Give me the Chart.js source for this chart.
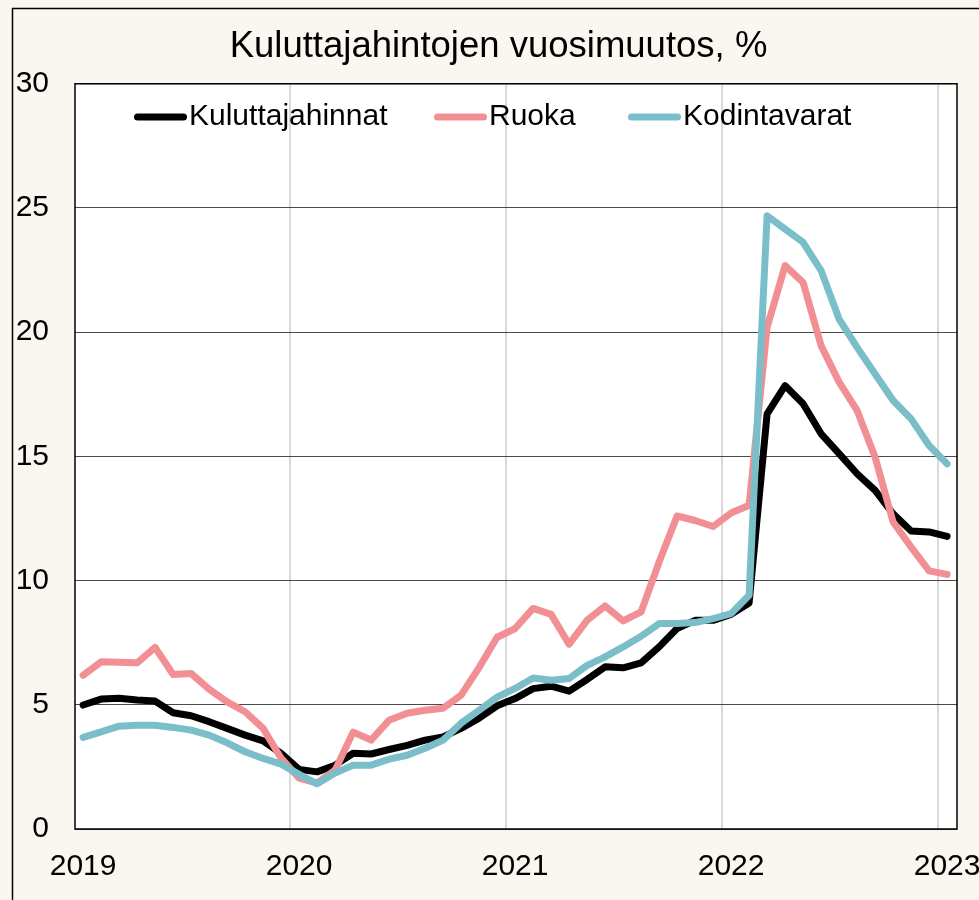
<!DOCTYPE html>
<html>
<head>
<meta charset="utf-8">
<script src="https://cdn.jsdelivr.net/npm/chart.js@4.4.0/dist/chart.umd.min.js"></script>
<style>
html, body { margin: 0; padding: 0; background: #faf6f0; overflow: hidden; }
</style>
</head>
<body>
<canvas id="chart" width="979" height="900"></canvas>
<script>
// Kuukausittaiset vuosimuutokset, tammikuu 2019 - tammikuu 2023
const years = ["2019", "2020", "2021", "2022", "2023"];
const yearTicks = [0, 12, 24, 36, 48];      // kuukausi-indeksi, jossa vuosi alkaa
const yearGrid = [11.5, 23.5, 35.5, 47.5];  // pystyviivat vuosien välissä

const kuluttajahinnat = [
  4.99, 5.23, 5.26, 5.19, 5.15, 4.68, 4.56, 4.32, 4.05, 3.78, 3.55, 3.04,
  2.40, 2.30, 2.57, 3.05, 3.02, 3.20, 3.37, 3.58, 3.71, 4.05, 4.46, 4.96,
  5.25, 5.65, 5.75, 5.55, 6.02, 6.53, 6.49, 6.69, 7.33, 8.07, 8.40, 8.40,
  8.64, 9.10, 16.71, 17.85, 17.12, 15.91, 15.11, 14.30, 13.63, 12.69, 12.00, 11.96,
  11.78
];
const ruoka = [
  6.19, 6.73, 6.71, 6.69, 7.31, 6.22, 6.26, 5.63, 5.12, 4.72, 4.05, 2.85,
  2.05, 1.85, 2.37, 3.90, 3.58, 4.38, 4.66, 4.78, 4.86, 5.39, 6.50, 7.72,
  8.07, 8.88, 8.64, 7.44, 8.40, 8.98, 8.38, 8.74, 10.75, 12.60, 12.42, 12.18,
  12.72, 13.03, 20.20, 22.68, 22.00, 19.46, 17.99, 16.85, 14.97, 12.36, 11.35, 10.39,
  10.25
];
const kodintavarat = [
  3.69, 3.91, 4.14, 4.18, 4.18, 4.09, 3.98, 3.78, 3.47, 3.11, 2.84, 2.61,
  2.20, 1.82, 2.25, 2.57, 2.57, 2.81, 2.97, 3.25, 3.58, 4.26, 4.78, 5.31,
  5.66, 6.08, 5.99, 6.06, 6.59, 6.93, 7.33, 7.76, 8.27, 8.27, 8.31, 8.47,
  8.67, 9.41, 24.69, 24.15, 23.62, 22.48, 20.53, 19.39, 18.32, 17.25, 16.51, 15.44,
  14.70
];

const FONT = "'Liberation Sans', Arial, sans-serif";
const toPoints = (arr) => arr.map((v, i) => ({ x: i, y: v }));

// legendan sijainnit (x-alku kullekin sarjalle)
const legendX = [134, 434, 628];

const plotFrame = {
  id: "plotFrame",
  afterLayout(chart) {
    // otsikko keskitetään kehyksen sisään (kehys alkaa x=40 kohdalla)
    if (chart.titleBlock) chart.titleBlock.left = 40;
  },
  beforeDraw(chart) {
    const { ctx, chartArea: a } = chart;
    ctx.save();
    ctx.fillStyle = "#faf6f0";
    ctx.fillRect(0, 0, chart.width, chart.height);
    ctx.strokeStyle = "#000";
    ctx.lineWidth = 1.5;
    ctx.beginPath();
    ctx.moveTo(12.5, chart.height);
    ctx.lineTo(12.5, 8.5);
    ctx.lineTo(chart.width, 8.5);
    ctx.stroke();
    ctx.fillStyle = "#fff";
    ctx.fillRect(a.left, a.top, a.right - a.left, a.bottom - a.top);
    ctx.restore();
  },
  beforeDatasetsDraw(chart) {
    const { ctx, chartArea: a } = chart;
    ctx.save();
    ctx.strokeStyle = "#000";
    ctx.lineWidth = 1.5;
    ctx.strokeRect(a.left, a.top, a.right - a.left, a.bottom - a.top);
    ctx.restore();
  },
  afterDraw(chart) {
    const ctx = chart.ctx;
    ctx.save();
    ctx.font = "30px " + FONT;
    ctx.textBaseline = "middle";
    chart.data.datasets.forEach((ds, i) => {
      const x0 = legendX[i];
      const y = 117;
      ctx.strokeStyle = ds.borderColor;
      ctx.lineWidth = 7;
      ctx.lineCap = "round";
      ctx.beginPath();
      ctx.moveTo(x0 + 3.5, y);
      ctx.lineTo(x0 + 49.5, y);
      ctx.stroke();
      ctx.fillStyle = "#000";
      ctx.fillText(ds.label, x0 + 55, y);
    });
    ctx.restore();
  }
};

const lineStyle = {
  borderWidth: 7,
  pointRadius: 0,
  tension: 0,
  borderCapStyle: "round",
  borderJoinStyle: "round",
  fill: false
};

new Chart(document.getElementById("chart"), {
  type: "line",
  data: {
    datasets: [
      Object.assign({ label: "Kuluttajahinnat", data: toPoints(kuluttajahinnat), borderColor: "#000000", order: 3 }, lineStyle),
      Object.assign({ label: "Ruoka", data: toPoints(ruoka), borderColor: "#f18f94", order: 2 }, lineStyle),
      Object.assign({ label: "Kodintavarat", data: toPoints(kodintavarat), borderColor: "#7abec9", order: 1 }, lineStyle)
    ]
  },
  options: {
    responsive: false,
    animation: false,
    layout: { padding: { top: 0, left: 0, right: 22, bottom: 0 } },
    plugins: {
      legend: { display: false },
      tooltip: { enabled: false },
      title: {
        display: true,
        text: "Kuluttajahintojen vuosimuutos, %",
        color: "#000",
        font: { family: FONT, size: 36.5, weight: "normal" },
        padding: { top: 25, bottom: 15 }
      }
    },
    scales: {
      x: {
        type: "linear",
        position: "bottom",
        min: -0.45,
        max: 48.55,
        afterBuildTicks: (scale) => { scale.ticks = yearTicks.map(v => ({ value: v })); },
        afterFit: (scale) => { scale.height = 71; scale.paddingLeft = 0; scale.paddingRight = 0; },
        grid: { display: false, drawTicks: false },
        border: { display: false },
        ticks: {
          padding: 20,
          color: "#000",
          font: { family: FONT, size: 30 },
          maxRotation: 0,
          autoSkip: false,
          callback: (value, index) => years[index]
        }
      },
      xGrid: {
        type: "linear",
        position: "top",
        min: -0.45,
        max: 48.55,
        afterBuildTicks: (scale) => { scale.ticks = yearGrid.map(v => ({ value: v })); },
        afterFit: (scale) => { scale.height = 0; scale.paddingLeft = 0; scale.paddingRight = 0; },
        grid: { color: "#d9d9d9", lineWidth: 2, drawTicks: false },
        border: { display: false },
        ticks: { display: false }
      },
      y: {
        min: 0,
        max: 30,
        afterFit: (scale) => { scale.width = 75; },
        grid: { color: "#4a4a4a", lineWidth: 1, drawTicks: false },
        border: { display: false },
        ticks: {
          stepSize: 5,
          padding: 26,
          color: "#000",
          font: { family: FONT, size: 30 }
        }
      }
    }
  },
  plugins: [plotFrame]
});
</script>
</body>
</html>
